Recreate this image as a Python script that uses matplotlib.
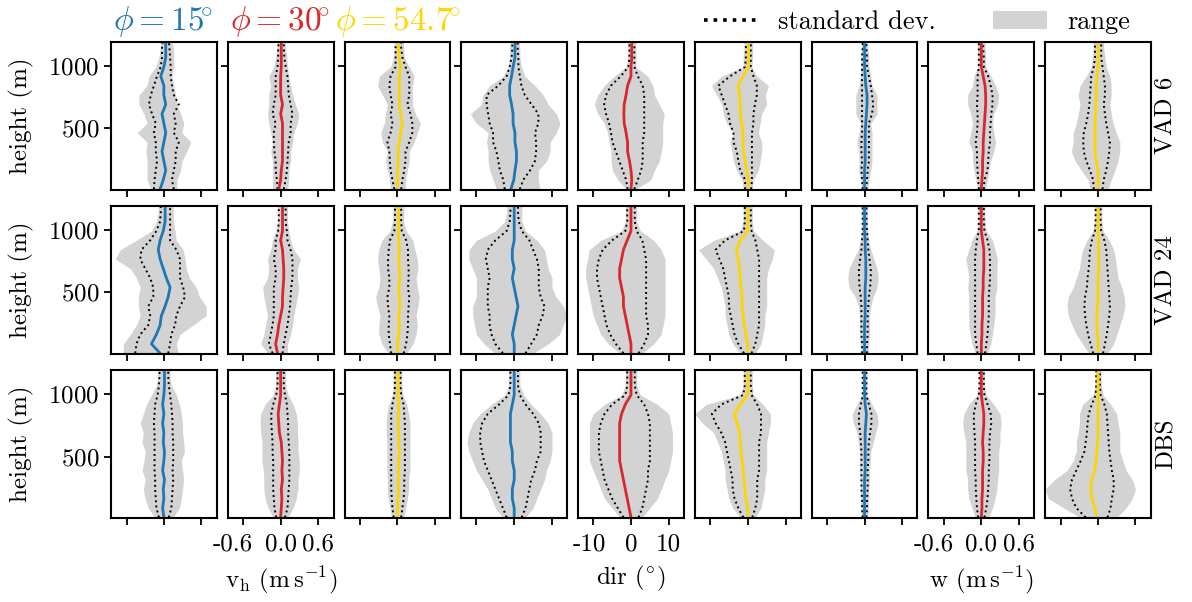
import matplotlib
matplotlib.use("Agg")
import matplotlib.pyplot as plt
from matplotlib.lines import Line2D
from matplotlib.patches import Patch
from matplotlib.transforms import ScaledTranslation

plt.rcParams.update({
    "font.family": "serif",
    "font.serif": ["cmr10"],
    "mathtext.fontset": "cm",
    "axes.formatter.use_mathtext": True,
    "font.size": 18,
    "axes.linewidth": 1.5,
    "xtick.major.width": 1.3,
    "ytick.major.width": 1.3,
    "xtick.major.size": 5,
    "ytick.major.size": 5,
    "xtick.major.pad": 6,
})

# measurement heights (m)
heights = [15, 90, 165, 240, 315, 390, 465, 540, 615, 690, 765, 840, 915, 990, 1065, 1140, 1190]

angle_labels = [r"$\phi = 15\!^{\circ}$", r"$\phi = 30\!^{\circ}$", r"$\phi = 54.7\!^{\circ}$"]
angle_colors = ["#1f77b4", "#d7282c", "#ffd500"]
scan_names = ["VAD 6", "VAD 24", "DBS"]

# Every list below holds the three elevation angles (15, 30, 54.7 deg).
# sdl / sdr are the left / right standard deviation bounds, lo / hi the range.

# ---- VAD 6 ----
vh_vad6_mean = [
    [-0.06, -0.01, 0.03, 0.0, -0.03, 0.0, 0.03, 0.0, -0.03, 0.03, 0.0, 0.0, -0.05, 0.0, 0.03, 0.03, 0.03],
    [-0.03, 0.0, 0.01, 0.03, 0.03, 0.03, 0.03, 0.03, 0.0, 0.03, 0.0, 0.0, 0.0, 0.01, 0.01, 0.01, 0.01],
    [0.0, 0.0, 0.0, 0.01, 0.01, 0.03, 0.05, 0.08, 0.05, 0.03, 0.03, 0.03, 0.03, 0.05, 0.03, 0.02, 0.02],
]
vh_vad6_sdl = [
    [-0.16, -0.15, -0.13, -0.11, -0.13, -0.13, -0.16, -0.13, -0.19, -0.24, -0.21, -0.16, -0.11, -0.05, -0.03, -0.03, -0.02],
    [-0.05, -0.06, -0.08, -0.08, -0.1, -0.11, -0.11, -0.08, -0.13, -0.11, -0.08, -0.08, -0.08, -0.05, -0.04, -0.04, -0.03],
    [-0.05, -0.08, -0.11, -0.12, -0.13, -0.16, -0.11, -0.08, -0.11, -0.08, -0.11, -0.13, -0.11, -0.03, -0.03, -0.03, -0.03],
]
vh_vad6_sdr = [
    [0.16, 0.13, 0.16, 0.19, 0.19, 0.24, 0.16, 0.19, 0.16, 0.24, 0.16, 0.13, 0.11, 0.11, 0.1, 0.09, 0.08],
    [0.05, 0.08, 0.1, 0.11, 0.12, 0.13, 0.16, 0.16, 0.19, 0.16, 0.13, 0.12, 0.11, 0.08, 0.06, 0.05, 0.05],
    [0.06, 0.08, 0.11, 0.13, 0.13, 0.19, 0.24, 0.24, 0.21, 0.16, 0.19, 0.19, 0.19, 0.13, 0.08, 0.06, 0.06],
]
vh_vad6_lo = [
    [-0.21, -0.27, -0.27, -0.27, -0.29, -0.27, -0.43, -0.27, -0.32, -0.4, -0.4, -0.27, -0.24, -0.13, -0.08, -0.06, -0.05],
    [-0.13, -0.13, -0.13, -0.13, -0.16, -0.13, -0.16, -0.19, -0.21, -0.19, -0.19, -0.16, -0.19, -0.11, -0.08, -0.06, -0.05],
    [-0.11, -0.13, -0.16, -0.19, -0.16, -0.24, -0.27, -0.21, -0.19, -0.16, -0.24, -0.32, -0.29, -0.11, -0.06, -0.05, -0.05],
]
vh_vad6_hi = [
    [0.21, 0.21, 0.27, 0.29, 0.37, 0.43, 0.29, 0.32, 0.27, 0.21, 0.19, 0.16, 0.13, 0.16, 0.16, 0.15, 0.13],
    [0.11, 0.13, 0.13, 0.16, 0.16, 0.19, 0.21, 0.27, 0.29, 0.24, 0.19, 0.16, 0.13, 0.11, 0.1, 0.08, 0.08],
    [0.13, 0.13, 0.16, 0.19, 0.19, 0.27, 0.32, 0.37, 0.29, 0.24, 0.24, 0.24, 0.27, 0.19, 0.11, 0.1, 0.1],
]
dir_vad6_mean = [
    [-0.9, -0.1, 0.2, 0.6, 0.6, 0.2, 0.2, -0.3, -0.3, -0.7, -1.2, -1.2, -0.7, -0.3, 0.2, 0.2, 0.2],
    [0.0, 0.2, 0.0, -0.4, -0.9, -0.9, -1.3, -1.8, -1.9, -1.8, -1.3, -0.9, 0.0, 0.0, 0.2, 0.2, 0.2],
    [0.2, 0.2, -0.3, -0.7, -1.2, -1.2, -1.3, -1.6, -1.9, -2.0, -2.2, -2.5, -1.2, 0.2, 0.2, 0.2, 0.2],
]
dir_vad6_sdl = [
    [-2.5, -2.9, -3.8, -4.2, -4.7, -5.6, -5.6, -6.5, -6.9, -7.3, -7.3, -4.2, -2.0, -1.2, -0.7, -0.5, -0.5],
    [-0.9, -1.3, -2.2, -3.1, -4.0, -4.9, -5.3, -5.8, -6.6, -7.1, -6.6, -5.3, -2.7, -0.7, -0.4, -0.4, -0.4],
    [-0.7, -0.7, -2.0, -2.5, -2.9, -3.8, -3.8, -4.7, -5.1, -6.0, -6.9, -7.8, -4.7, -0.7, -0.5, -0.5, -0.5],
]
dir_vad6_sdr = [
    [1.5, 2.4, 4.2, 5.5, 5.8, 5.8, 5.5, 6.4, 6.4, 4.6, 2.8, 1.9, 1.5, 1.1, 1.1, 0.9, 0.9],
    [0.9, 1.8, 2.7, 3.1, 3.1, 3.1, 3.5, 3.5, 3.5, 3.5, 3.5, 3.1, 1.8, 0.9, 0.9, 0.9, 0.9],
    [0.9, 1.1, 1.1, 1.1, 1.1, 1.1, 1.1, 1.5, 1.5, 1.9, 2.4, 2.4, 1.5, 0.8, 0.8, 0.8, 0.8],
]
dir_vad6_lo = [
    [-4.7, -5.6, -6.5, -6.9, -6.9, -7.3, -6.9, -10.0, -11.6, -8.7, -8.2, -6.5, -2.9, -1.6, -1.2, -1.2, -1.0],
    [-1.3, -3.5, -4.9, -5.3, -5.3, -5.8, -6.2, -7.1, -8.8, -9.7, -8.8, -7.1, -4.4, -1.3, -0.9, -0.9, -0.9],
    [-1.2, -1.6, -2.9, -3.8, -4.2, -4.7, -3.8, -5.6, -6.5, -6.9, -8.2, -9.6, -6.9, -1.2, -1.2, -1.0, -1.0],
]
dir_vad6_hi = [
    [6.8, 6.4, 6.4, 8.6, 9.5, 9.5, 11.2, 12.1, 11.2, 9.0, 7.7, 5.5, 2.8, 1.9, 1.5, 1.5, 1.3],
    [1.3, 5.3, 6.2, 7.5, 8.0, 8.4, 8.4, 8.4, 8.8, 7.5, 6.2, 5.8, 4.4, 1.3, 1.3, 1.3, 1.3],
    [1.1, 1.5, 2.8, 3.3, 3.7, 3.7, 2.8, 3.3, 3.7, 5.0, 4.6, 5.5, 2.4, 1.1, 1.3, 1.3, 1.3],
]
w_vad6_mean = [
    [0.0, 0.0, 0.0, 0.01, 0.01, 0.01, 0.01, 0.02, 0.03, 0.04, 0.04, 0.02, 0.01, 0.0, 0.0, 0.0, 0.0],
    [0.0, 0.01, 0.02, 0.02, 0.03, 0.03, 0.04, 0.05, 0.06, 0.07, 0.07, 0.06, 0.03, 0.0, 0.0, 0.0, 0.0],
    [0.0, 0.0, 0.0, -0.03, -0.05, -0.05, -0.05, -0.05, -0.04, -0.04, -0.03, -0.03, -0.02, 0.0, 0.0, 0.0, 0.0],
]
w_vad6_sdl = [
    [-0.03, -0.04, -0.05, -0.04, -0.05, -0.05, -0.04, -0.04, -0.04, -0.04, -0.04, -0.04, -0.04, -0.04, -0.04, -0.03, -0.03],
    [-0.04, -0.05, -0.06, -0.07, -0.07, -0.09, -0.07, -0.06, -0.06, -0.07, -0.06, -0.06, -0.06, -0.04, -0.04, -0.04, -0.04],
    [-0.07, -0.08, -0.13, -0.19, -0.23, -0.24, -0.23, -0.19, -0.16, -0.14, -0.13, -0.12, -0.11, -0.07, -0.05, -0.05, -0.05],
]
w_vad6_sdr = [
    [0.03, 0.04, 0.05, 0.07, 0.07, 0.07, 0.07, 0.07, 0.12, 0.14, 0.12, 0.1, 0.07, 0.04, 0.04, 0.03, 0.03],
    [0.04, 0.05, 0.1, 0.11, 0.12, 0.14, 0.14, 0.15, 0.16, 0.18, 0.18, 0.15, 0.11, 0.04, 0.04, 0.03, 0.03],
    [0.07, 0.09, 0.13, 0.16, 0.18, 0.19, 0.16, 0.13, 0.11, 0.09, 0.11, 0.11, 0.09, 0.07, 0.05, 0.05, 0.05],
]
w_vad6_lo = [
    [-0.05, -0.06, -0.09, -0.09, -0.09, -0.12, -0.09, -0.06, -0.14, -0.14, -0.14, -0.09, -0.07, -0.06, -0.06, -0.05, -0.05],
    [-0.06, -0.09, -0.12, -0.14, -0.14, -0.2, -0.17, -0.14, -0.17, -0.22, -0.22, -0.14, -0.12, -0.06, -0.06, -0.06, -0.06],
    [-0.13, -0.16, -0.27, -0.37, -0.43, -0.4, -0.4, -0.35, -0.32, -0.29, -0.32, -0.29, -0.19, -0.11, -0.09, -0.08, -0.08],
]
w_vad6_hi = [
    [0.05, 0.07, 0.1, 0.12, 0.12, 0.12, 0.12, 0.1, 0.2, 0.2, 0.2, 0.12, 0.1, 0.07, 0.07, 0.05, 0.05],
    [0.07, 0.1, 0.12, 0.15, 0.2, 0.23, 0.2, 0.18, 0.2, 0.26, 0.28, 0.23, 0.15, 0.07, 0.07, 0.06, 0.06],
    [0.16, 0.21, 0.27, 0.32, 0.35, 0.35, 0.29, 0.24, 0.21, 0.19, 0.21, 0.21, 0.19, 0.13, 0.11, 0.09, 0.09],
]

# ---- VAD 24 ----
vh_vad24_mean = [
    [-0.06, -0.2, -0.12, -0.06, -0.04, 0.02, 0.07, 0.1, 0.04, -0.01, -0.06, -0.09, -0.06, -0.01, 0.02, 0.02, 0.02],
    [-0.05, -0.08, -0.05, -0.03, 0.0, 0.03, 0.03, 0.04, 0.05, 0.05, 0.04, 0.03, 0.0, 0.03, 0.03, 0.03, 0.03],
    [0.0, 0.0, 0.02, 0.03, 0.02, 0.04, 0.03, 0.02, 0.04, 0.03, 0.02, 0.03, 0.02, 0.02, 0.02, 0.02, 0.02],
]
vh_vad24_sdl = [
    [-0.46, -0.44, -0.38, -0.25, -0.22, -0.25, -0.17, -0.17, -0.22, -0.3, -0.38, -0.36, -0.22, -0.12, -0.06, -0.05, -0.05],
    [-0.13, -0.19, -0.16, -0.13, -0.11, -0.11, -0.11, -0.11, -0.08, -0.08, -0.11, -0.08, -0.08, -0.04, -0.03, -0.03, -0.03],
    [-0.1, -0.12, -0.14, -0.14, -0.13, -0.15, -0.16, -0.13, -0.13, -0.15, -0.15, -0.14, -0.12, -0.05, -0.04, -0.04, -0.04],
]
vh_vad24_sdr = [
    [0.07, 0.1, 0.12, 0.18, 0.2, 0.26, 0.34, 0.31, 0.26, 0.26, 0.26, 0.2, 0.1, 0.1, 0.1, 0.1, 0.1],
    [0.03, 0.05, 0.08, 0.11, 0.13, 0.15, 0.16, 0.17, 0.19, 0.19, 0.19, 0.16, 0.11, 0.1, 0.08, 0.08, 0.08],
    [0.1, 0.14, 0.16, 0.17, 0.17, 0.18, 0.19, 0.17, 0.18, 0.18, 0.17, 0.17, 0.14, 0.07, 0.06, 0.06, 0.06],
]
vh_vad24_lo = [
    [-0.65, -0.65, -0.54, -0.44, -0.38, -0.41, -0.41, -0.38, -0.44, -0.54, -0.78, -0.7, -0.44, -0.2, -0.12, -0.09, -0.09],
    [-0.21, -0.32, -0.27, -0.24, -0.21, -0.24, -0.27, -0.29, -0.21, -0.19, -0.21, -0.16, -0.13, -0.08, -0.05, -0.05, -0.05],
    [-0.15, -0.25, -0.3, -0.3, -0.28, -0.32, -0.35, -0.3, -0.28, -0.3, -0.32, -0.3, -0.25, -0.12, -0.08, -0.07, -0.07],
]
vh_vad24_hi = [
    [0.23, 0.2, 0.26, 0.47, 0.68, 0.68, 0.57, 0.52, 0.41, 0.36, 0.34, 0.31, 0.2, 0.18, 0.15, 0.15, 0.15],
    [0.11, 0.11, 0.16, 0.19, 0.21, 0.24, 0.27, 0.29, 0.27, 0.27, 0.32, 0.21, 0.16, 0.13, 0.11, 0.11, 0.11],
    [0.15, 0.25, 0.3, 0.32, 0.3, 0.33, 0.35, 0.32, 0.3, 0.33, 0.32, 0.28, 0.25, 0.14, 0.1, 0.1, 0.1],
]
dir_vad24_mean = [
    [0.0, 0.0, -0.5, 0.0, 0.5, 1.0, 0.5, 0.0, -0.5, 0.0, -0.5, -0.5, 0.0, 0.0, 0.0, 0.0, 0.0],
    [0.0, 0.0, -0.5, -1.0, -1.5, -2.0, -2.0, -2.5, -3.0, -3.0, -2.5, -2.0, -1.0, 0.0, 0.0, 0.0, 0.0],
    [0.0, 0.0, -0.5, -1.0, -1.2, -1.5, -1.5, -1.8, -2.0, -2.2, -2.5, -3.0, -2.0, 0.0, 0.0, 0.0, 0.0],
]
dir_vad24_sdl = [
    [-3.0, -5.0, -6.0, -6.5, -6.5, -7.0, -7.0, -7.0, -6.5, -7.0, -7.5, -7.0, -5.0, -2.0, -1.2, -1.0, -1.0],
    [-2.0, -4.0, -5.5, -6.5, -7.0, -7.5, -8.0, -8.5, -9.0, -9.0, -8.5, -7.5, -5.0, -1.5, -1.0, -1.0, -1.0],
    [-1.0, -2.5, -3.5, -4.0, -4.5, -5.0, -5.0, -5.5, -6.0, -6.5, -7.5, -8.5, -6.0, -1.0, -0.8, -0.8, -0.8],
]
dir_vad24_sdr = [
    [3.0, 4.5, 6.0, 6.5, 7.5, 8.0, 7.0, 6.5, 6.5, 6.5, 6.0, 5.0, 4.0, 2.0, 1.2, 1.0, 1.0],
    [2.0, 3.5, 4.5, 4.5, 4.0, 4.0, 4.0, 4.0, 4.0, 4.0, 4.0, 3.5, 3.0, 1.5, 1.0, 1.0, 1.0],
    [1.0, 2.0, 2.5, 3.0, 3.0, 3.0, 3.0, 3.0, 3.0, 3.0, 3.0, 2.5, 2.0, 1.0, 0.8, 0.8, 0.8],
]
dir_vad24_lo = [
    [-5.0, -8.0, -10.0, -10.5, -11.0, -11.0, -10.0, -10.0, -10.0, -11.0, -12.0, -12.0, -10.0, -5.0, -2.5, -2.0, -2.0],
    [-3.0, -6.0, -8.0, -9.0, -10.0, -10.5, -11.0, -11.5, -12.0, -12.0, -11.5, -11.0, -8.0, -2.5, -1.5, -1.5, -1.5],
    [-2.0, -4.0, -5.0, -5.5, -6.0, -6.0, -6.5, -7.0, -8.0, -9.0, -11.0, -13.0, -9.0, -2.0, -1.2, -1.2, -1.2],
]
dir_vad24_hi = [
    [5.0, 9.0, 12.0, 13.0, 14.0, 13.0, 11.0, 10.0, 10.0, 9.0, 8.5, 8.0, 6.0, 3.0, 2.0, 2.0, 2.0],
    [3.0, 6.0, 8.0, 8.5, 9.0, 9.0, 9.0, 9.0, 9.0, 9.0, 9.0, 8.0, 6.0, 2.5, 1.5, 1.5, 1.5],
    [2.0, 3.5, 4.0, 4.5, 4.5, 5.0, 5.0, 5.0, 5.0, 5.5, 6.5, 7.0, 4.0, 1.5, 1.2, 1.2, 1.2],
]
w_vad24_mean = [
    [0.0, 0.0, 0.0, 0.0, 0.01, 0.01, 0.01, 0.01, 0.02, 0.02, 0.02, 0.01, 0.01, 0.0, 0.0, 0.0, 0.0],
    [0.0, 0.0, 0.01, 0.01, 0.02, 0.02, 0.02, 0.03, 0.03, 0.04, 0.04, 0.04, 0.02, 0.0, 0.0, 0.0, 0.0],
    [0.0, 0.0, -0.01, -0.02, -0.02, -0.01, 0.0, 0.0, 0.0, 0.01, 0.01, 0.01, 0.01, 0.0, 0.0, 0.0, 0.0],
]
w_vad24_sdl = [
    [-0.04, -0.04, -0.05, -0.05, -0.05, -0.05, -0.06, -0.08, -0.09, -0.09, -0.07, -0.05, -0.04, -0.03, -0.03, -0.03, -0.03],
    [-0.06, -0.08, -0.1, -0.1, -0.1, -0.1, -0.1, -0.1, -0.1, -0.1, -0.1, -0.09, -0.07, -0.04, -0.04, -0.04, -0.04],
    [-0.08, -0.12, -0.16, -0.19, -0.21, -0.22, -0.21, -0.18, -0.17, -0.15, -0.14, -0.13, -0.1, -0.05, -0.04, -0.04, -0.04],
]
w_vad24_sdr = [
    [0.04, 0.04, 0.05, 0.05, 0.05, 0.06, 0.07, 0.09, 0.1, 0.1, 0.08, 0.06, 0.05, 0.04, 0.03, 0.03, 0.03],
    [0.06, 0.08, 0.1, 0.11, 0.12, 0.12, 0.12, 0.13, 0.14, 0.14, 0.14, 0.13, 0.1, 0.05, 0.04, 0.04, 0.04],
    [0.08, 0.11, 0.14, 0.16, 0.18, 0.19, 0.18, 0.17, 0.16, 0.15, 0.14, 0.13, 0.1, 0.05, 0.04, 0.04, 0.04],
]
w_vad24_lo = [
    [-0.06, -0.07, -0.08, -0.08, -0.08, -0.1, -0.15, -0.25, -0.27, -0.25, -0.18, -0.1, -0.07, -0.05, -0.05, -0.05, -0.05],
    [-0.1, -0.15, -0.18, -0.2, -0.2, -0.2, -0.2, -0.22, -0.2, -0.22, -0.25, -0.2, -0.15, -0.07, -0.06, -0.06, -0.06],
    [-0.15, -0.25, -0.35, -0.42, -0.48, -0.5, -0.48, -0.4, -0.35, -0.3, -0.28, -0.25, -0.18, -0.08, -0.06, -0.06, -0.06],
]
w_vad24_hi = [
    [0.06, 0.07, 0.08, 0.08, 0.08, 0.1, 0.14, 0.2, 0.22, 0.2, 0.15, 0.1, 0.07, 0.05, 0.05, 0.05, 0.05],
    [0.1, 0.15, 0.18, 0.2, 0.22, 0.22, 0.22, 0.25, 0.25, 0.25, 0.26, 0.22, 0.18, 0.08, 0.06, 0.06, 0.06],
    [0.15, 0.25, 0.3, 0.35, 0.4, 0.43, 0.42, 0.38, 0.32, 0.3, 0.28, 0.25, 0.18, 0.08, 0.06, 0.06, 0.06],
]

# ---- DBS ----
vh_dbs_mean = [
    [0.0, -0.02, 0.0, -0.01, 0.01, -0.02, 0.0, 0.01, -0.01, 0.0, -0.02, 0.0, -0.02, 0.0, 0.01, 0.01, 0.01],
    [0.0, 0.01, 0.02, 0.01, 0.03, 0.02, 0.03, 0.02, 0.01, -0.02, -0.03, -0.04, -0.02, 0.0, 0.0, 0.0, 0.0],
    [0.0, 0.0, 0.01, 0.02, 0.01, 0.02, 0.02, 0.03, 0.02, 0.02, 0.01, 0.02, 0.02, 0.01, 0.01, 0.01, 0.01],
]
vh_dbs_sdl = [
    [-0.08, -0.12, -0.13, -0.14, -0.14, -0.15, -0.15, -0.15, -0.15, -0.15, -0.16, -0.15, -0.14, -0.1, -0.08, -0.07, -0.07],
    [-0.07, -0.1, -0.11, -0.12, -0.12, -0.12, -0.12, -0.13, -0.13, -0.14, -0.15, -0.15, -0.12, -0.07, -0.05, -0.05, -0.05],
    [-0.06, -0.08, -0.09, -0.1, -0.1, -0.1, -0.1, -0.1, -0.1, -0.1, -0.1, -0.1, -0.08, -0.05, -0.04, -0.04, -0.04],
]
vh_dbs_sdr = [
    [0.08, 0.12, 0.13, 0.14, 0.15, 0.14, 0.15, 0.15, 0.15, 0.14, 0.14, 0.13, 0.12, 0.1, 0.08, 0.07, 0.07],
    [0.07, 0.11, 0.12, 0.13, 0.14, 0.14, 0.14, 0.14, 0.13, 0.12, 0.12, 0.11, 0.1, 0.07, 0.05, 0.05, 0.05],
    [0.06, 0.08, 0.1, 0.11, 0.11, 0.12, 0.12, 0.12, 0.12, 0.12, 0.12, 0.11, 0.1, 0.06, 0.05, 0.05, 0.05],
]
vh_dbs_lo = [
    [-0.15, -0.25, -0.3, -0.33, -0.3, -0.35, -0.32, -0.3, -0.35, -0.33, -0.38, -0.33, -0.28, -0.2, -0.12, -0.1, -0.1],
    [-0.12, -0.2, -0.25, -0.27, -0.27, -0.28, -0.3, -0.3, -0.3, -0.32, -0.33, -0.32, -0.25, -0.12, -0.08, -0.08, -0.08],
    [-0.1, -0.12, -0.15, -0.16, -0.16, -0.17, -0.17, -0.17, -0.17, -0.18, -0.18, -0.17, -0.14, -0.08, -0.07, -0.07, -0.07],
]
vh_dbs_hi = [
    [0.15, 0.25, 0.28, 0.3, 0.32, 0.3, 0.28, 0.33, 0.32, 0.3, 0.3, 0.28, 0.25, 0.2, 0.12, 0.1, 0.1],
    [0.12, 0.2, 0.25, 0.28, 0.28, 0.3, 0.3, 0.28, 0.28, 0.27, 0.27, 0.25, 0.2, 0.12, 0.08, 0.08, 0.08],
    [0.1, 0.13, 0.16, 0.18, 0.18, 0.2, 0.2, 0.2, 0.2, 0.2, 0.2, 0.18, 0.15, 0.09, 0.07, 0.07, 0.07],
]
dir_dbs_mean = [
    [0.0, 0.0, -0.5, -0.5, 0.0, 0.0, -0.5, -0.5, -1.0, -1.0, -1.0, -1.0, -0.5, 0.0, 0.0, 0.0, 0.0],
    [0.0, -0.5, -1.0, -1.5, -2.0, -2.5, -3.0, -3.0, -3.0, -3.0, -3.0, -2.5, -1.5, 0.0, 0.0, 0.0, 0.0],
    [0.0, 0.0, -0.5, -0.8, -1.0, -1.2, -1.5, -1.8, -2.0, -2.2, -2.8, -3.5, -2.0, 0.0, 0.0, 0.0, 0.0],
]
dir_dbs_sdl = [
    [-2.0, -3.0, -4.0, -5.0, -6.0, -7.0, -8.0, -8.5, -9.0, -9.0, -8.5, -7.0, -4.0, -1.5, -1.0, -1.0, -1.0],
    [-2.0, -3.5, -5.0, -6.0, -7.0, -7.5, -8.0, -8.5, -8.5, -8.5, -8.0, -7.0, -5.0, -1.5, -1.0, -1.0, -1.0],
    [-1.2, -2.5, -3.5, -4.0, -4.0, -4.5, -5.0, -5.5, -6.0, -7.0, -8.5, -9.5, -7.0, -1.2, -0.8, -0.8, -0.8],
]
dir_dbs_sdr = [
    [2.0, 3.0, 3.5, 4.0, 4.5, 5.5, 6.0, 7.0, 7.0, 7.0, 6.5, 5.0, 3.0, 1.5, 1.0, 1.0, 1.0],
    [2.0, 3.0, 3.5, 4.0, 4.5, 4.5, 5.0, 5.0, 5.0, 5.0, 5.0, 4.5, 3.5, 1.5, 1.0, 1.0, 1.0],
    [1.2, 2.0, 2.5, 2.5, 2.5, 3.0, 3.0, 3.0, 3.0, 3.5, 3.5, 3.5, 2.5, 1.0, 0.8, 0.8, 0.8],
]
dir_dbs_lo = [
    [-3.0, -5.0, -6.0, -7.0, -8.5, -10.0, -11.0, -12.0, -12.5, -12.0, -11.0, -9.0, -6.0, -2.5, -1.5, -1.5, -1.5],
    [-3.0, -5.0, -7.0, -8.0, -9.0, -10.0, -11.0, -11.0, -11.0, -11.0, -11.0, -10.0, -7.0, -2.5, -1.5, -1.5, -1.5],
    [-2.0, -4.0, -5.0, -5.5, -6.0, -6.0, -6.5, -7.0, -8.0, -9.0, -12.0, -14.0, -11.0, -2.0, -1.2, -1.2, -1.2],
]
dir_dbs_hi = [
    [3.0, 5.0, 6.0, 7.0, 8.0, 8.5, 9.5, 10.0, 10.0, 10.0, 9.0, 7.0, 4.5, 2.5, 1.5, 1.5, 1.5],
    [3.0, 5.0, 7.0, 8.0, 9.0, 10.0, 10.5, 11.0, 11.0, 11.0, 10.5, 10.0, 7.0, 2.5, 1.5, 1.5, 1.5],
    [2.0, 3.5, 4.0, 4.5, 4.5, 5.0, 5.0, 5.0, 5.0, 5.5, 6.0, 6.0, 4.0, 1.5, 1.2, 1.2, 1.2],
]
w_dbs_mean = [
    [0.0, 0.0, 0.0, 0.0, 0.0, 0.01, 0.01, 0.01, 0.01, 0.01, 0.02, 0.03, 0.01, 0.0, 0.0, 0.0, 0.0],
    [0.0, 0.01, 0.01, 0.02, 0.02, 0.02, 0.03, 0.03, 0.02, 0.03, 0.04, 0.04, 0.02, 0.0, 0.0, 0.0, 0.0],
    [-0.02, -0.05, -0.1, -0.12, -0.1, -0.06, -0.03, -0.02, -0.01, 0.0, 0.0, 0.0, 0.0, 0.0, 0.0, 0.0, 0.0],
]
w_dbs_sdl = [
    [-0.03, -0.04, -0.04, -0.05, -0.05, -0.05, -0.05, -0.05, -0.06, -0.07, -0.09, -0.09, -0.06, -0.03, -0.03, -0.03, -0.03],
    [-0.05, -0.07, -0.08, -0.09, -0.09, -0.1, -0.1, -0.1, -0.1, -0.11, -0.12, -0.12, -0.09, -0.04, -0.03, -0.03, -0.03],
    [-0.2, -0.35, -0.42, -0.45, -0.42, -0.35, -0.28, -0.22, -0.2, -0.18, -0.17, -0.15, -0.1, -0.04, -0.03, -0.03, -0.03],
]
w_dbs_sdr = [
    [0.03, 0.04, 0.04, 0.05, 0.05, 0.05, 0.06, 0.06, 0.07, 0.09, 0.11, 0.11, 0.07, 0.03, 0.03, 0.03, 0.03],
    [0.05, 0.08, 0.1, 0.11, 0.12, 0.12, 0.13, 0.13, 0.13, 0.14, 0.16, 0.15, 0.1, 0.05, 0.04, 0.04, 0.04],
    [0.15, 0.2, 0.22, 0.25, 0.25, 0.22, 0.2, 0.18, 0.17, 0.16, 0.15, 0.14, 0.1, 0.04, 0.03, 0.03, 0.03],
]
w_dbs_lo = [
    [-0.05, -0.06, -0.07, -0.07, -0.07, -0.08, -0.08, -0.08, -0.1, -0.12, -0.18, -0.2, -0.12, -0.04, -0.04, -0.04, -0.04],
    [-0.1, -0.15, -0.2, -0.22, -0.22, -0.25, -0.25, -0.25, -0.25, -0.28, -0.3, -0.28, -0.2, -0.07, -0.05, -0.05, -0.05],
    [-0.3, -0.55, -0.8, -0.85, -0.7, -0.5, -0.4, -0.35, -0.35, -0.32, -0.3, -0.3, -0.25, -0.08, -0.05, -0.05, -0.05],
]
w_dbs_hi = [
    [0.05, 0.06, 0.07, 0.07, 0.08, 0.08, 0.09, 0.1, 0.14, 0.18, 0.22, 0.2, 0.12, 0.04, 0.04, 0.04, 0.04],
    [0.12, 0.18, 0.22, 0.25, 0.26, 0.28, 0.28, 0.28, 0.3, 0.3, 0.32, 0.3, 0.2, 0.08, 0.05, 0.05, 0.05],
    [0.3, 0.45, 0.55, 0.6, 0.55, 0.45, 0.4, 0.35, 0.35, 0.35, 0.32, 0.3, 0.2, 0.08, 0.05, 0.05, 0.05],
]

profiles = {
    ("vh", "VAD 6"): (vh_vad6_mean, vh_vad6_sdl, vh_vad6_sdr, vh_vad6_lo, vh_vad6_hi),
    ("dir", "VAD 6"): (dir_vad6_mean, dir_vad6_sdl, dir_vad6_sdr, dir_vad6_lo, dir_vad6_hi),
    ("w", "VAD 6"): (w_vad6_mean, w_vad6_sdl, w_vad6_sdr, w_vad6_lo, w_vad6_hi),
    ("vh", "VAD 24"): (vh_vad24_mean, vh_vad24_sdl, vh_vad24_sdr, vh_vad24_lo, vh_vad24_hi),
    ("dir", "VAD 24"): (dir_vad24_mean, dir_vad24_sdl, dir_vad24_sdr, dir_vad24_lo, dir_vad24_hi),
    ("w", "VAD 24"): (w_vad24_mean, w_vad24_sdl, w_vad24_sdr, w_vad24_lo, w_vad24_hi),
    ("vh", "DBS"): (vh_dbs_mean, vh_dbs_sdl, vh_dbs_sdr, vh_dbs_lo, vh_dbs_hi),
    ("dir", "DBS"): (dir_dbs_mean, dir_dbs_sdl, dir_dbs_sdr, dir_dbs_lo, dir_dbs_hi),
    ("w", "DBS"): (w_dbs_mean, w_dbs_sdl, w_dbs_sdr, w_dbs_lo, w_dbs_hi),
}

variables = ["vh", "dir", "w"]
x_limits = {"vh": 0.85, "dir": 14.0, "w": 0.85}
x_ticks = {"vh": [-0.6, 0.0, 0.6], "dir": [-10, 0, 10], "w": [-0.6, 0.0, 0.6]}
x_ticklabels = {"vh": ["-0.6", "0.0", "0.6"], "dir": ["-10", "0", "10"], "w": ["-0.6", "0.0", "0.6"]}
# the negative label sits a little left of its tick (inches)
neg_label_shift = {"vh": -0.10, "dir": -0.04, "w": -0.10}
x_labels = {
    "vh": r"v$_{\rm h}$ (m$\,$s$^{-1}$)",
    "dir": r"dir ($^{\circ}$)",
    "w": r"w (m$\,$s$^{-1}$)",
}

fig, axes = plt.subplots(3, 9, figsize=(11.92, 6.02), dpi=100)
fig.subplots_adjust(left=0.0931, right=0.9656, top=0.9307, bottom=0.1395,
                    wspace=0.104, hspace=0.108)

for r, scan in enumerate(scan_names):
    for c in range(9):
        ax = axes[r, c]
        var = variables[c // 3]
        k = c % 3
        mean, sdl, sdr, lo, hi = (arr[k] for arr in profiles[(var, scan)])

        ax.fill_betweenx(heights, lo, hi, color="#d3d3d3", lw=0)
        ax.plot(sdl, heights, color="k", ls=":", lw=1.4)
        ax.plot(sdr, heights, color="k", ls=":", lw=1.4)
        ax.plot(mean, heights, color=angle_colors[k], lw=2.0)

        lim = x_limits[var]
        ax.set_xlim(-lim, lim)
        ax.set_ylim(10, 1190)
        ax.set_xticks(x_ticks[var])
        if r == 2 and k == 1:
            ax.set_xticklabels(x_ticklabels[var])
            neg = ax.get_xticklabels()[0]
            neg.set_transform(neg.get_transform() + ScaledTranslation(
                neg_label_shift[var], 0, fig.dpi_scale_trans))
            ax.set_xlabel(x_labels[var], labelpad=6)
        else:
            ax.set_xticklabels([])

        if c == 0:
            ax.set_yticks([500, 1000])
            ax.set_ylabel("height (m)", labelpad=10)
        else:
            ax.set_yticks([1000])
            ax.set_yticklabels([])

    axes[r, 8].text(1.15, 0.5, scan, transform=axes[r, 8].transAxes,
                    rotation=90, ha="center", va="center")

# angle legend in coloured text
for x, label, col in zip([0.095, 0.193, 0.281], angle_labels, angle_colors):
    fig.text(x, 0.965, label, color=col, fontsize=24, ha="left", va="center")

fig.legend([Line2D([], [], color="k", ls=":", lw=2.6)], ["standard dev."],
           frameon=False, loc="center left", bbox_to_anchor=(0.591, 0.963),
           borderpad=0, borderaxespad=0, handlelength=1.95,
           handletextpad=0.85, fontsize=19)
fig.legend([Patch(facecolor="#d3d3d3", edgecolor="none")], ["range"],
           frameon=False, loc="center left", bbox_to_anchor=(0.833, 0.963),
           borderpad=0, borderaxespad=0, handlelength=2.05,
           handletextpad=0.75, fontsize=19)

fig.savefig("out.png", dpi=100)
